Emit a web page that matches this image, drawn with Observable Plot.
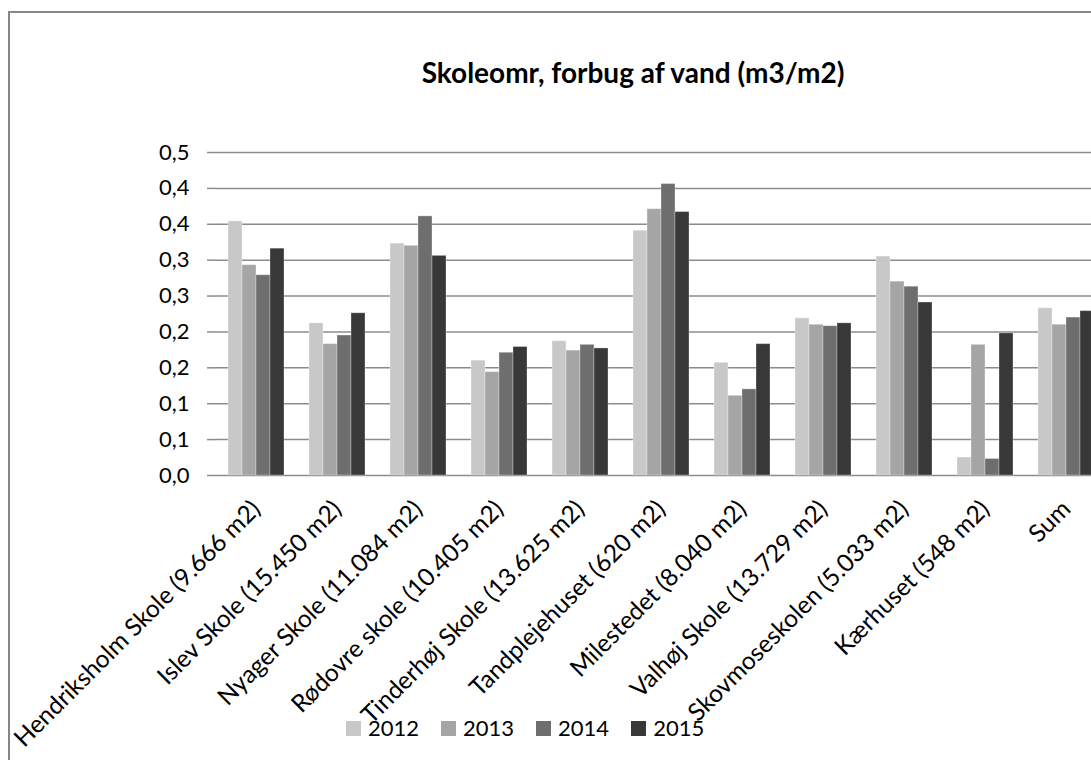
<!DOCTYPE html>
<html>
<head>
<meta charset="utf-8">
<script src="https://cdn.jsdelivr.net/npm/d3@7"></script>
<script src="https://cdn.jsdelivr.net/npm/@observablehq/plot@0.6"></script>
<style>
  html, body { margin: 0; padding: 0; background: #fff; overflow: hidden; width: 1091px; height: 760px; }
  #frame { position: absolute; left: 8px; top: 11px; width: 1200px; height: 900px; border-left: 2px solid #878787; border-top: 2px solid #878787; }
  #chart { position: absolute; left: 0; top: 0; width: 1130px; height: 760px; }
  #title { position: absolute; left: 283px; width: 700px; top: 56px; text-align: center; font-family: Lato, sans-serif; font-weight: bold; font-size: 28px; line-height: 1.2; color: #000; white-space: nowrap; }
  #legend { position: absolute; left: 346px; top: 716px; height: 24px; }
  #legend * { font-family: Lato, sans-serif !important; font-size: 22px !important; color: #000 !important; }
  #legend .lg-swatches { margin: 0 !important; min-height: 24px !important; height: 24px !important; display: flex !important; align-items: center !important; flex-wrap: nowrap !important; }
  #legend .lg-swatch { margin-right: 22px !important; display: inline-flex !important; align-items: center !important; line-height: 24px !important; }
  #legend .lg-swatch > svg { margin-right: 7px !important; }
</style>
</head>
<body>
<div id="frame"></div>
<div id="chart"></div>
<div id="title">Skoleomr, forbug af vand (m3/m2)</div>
<div id="legend"></div>
<script>
// ---- data ----
const categories = [
  "Hendriksholm Skole (9.666 m2)",
  "Islev Skole (15.450 m2)",
  "Nyager Skole (11.084 m2)",
  "Rødovre skole (10.405 m2)",
  "Tinderhøj Skole (13.625 m2)",
  "Tandplejehuset (620 m2)",
  "Milestedet (8.040 m2)",
  "Valhøj Skole (13.729 m2)",
  "Skovmoseskolen (5.033 m2)",
  "Kærhuset (548 m2)",
  "Sum"
];
const years = ["2012", "2013", "2014", "2015"];
const v2012 = [0.354, 0.212, 0.323, 0.160, 0.187, 0.341, 0.157, 0.219, 0.305, 0.025, 0.233];
const v2013 = [0.293, 0.183, 0.320, 0.144, 0.174, 0.371, 0.111, 0.210, 0.270, 0.182, 0.210];
const v2014 = [0.279, 0.195, 0.361, 0.171, 0.182, 0.406, 0.120, 0.208, 0.263, 0.023, 0.220];
const v2015 = [0.316, 0.226, 0.306, 0.179, 0.177, 0.367, 0.183, 0.212, 0.241, 0.198, 0.229];
const yTicks = [0, 0.05, 0.1, 0.15, 0.2, 0.25, 0.3, 0.35, 0.4, 0.45];
const yTickLabels = ["0,0", "0,1", "0,1", "0,2", "0,2", "0,3", "0,3", "0,4", "0,4", "0,5"];
const colors = ["#c8c8c8", "#a5a5a5", "#6e6e6e", "#383838"];

// ---- table ----
const series = [v2012, v2013, v2014, v2015];
const rows = [];
categories.forEach((c, i) => years.forEach((y, j) => rows.push({category: c, year: y, value: series[j][i]})));

// ---- layout ----
const W = 1130, H = 760;
const mL = 215, mR = 24, mT = 152, mB = 285;
const bandHalf = (W - mL - mR) / categories.length / 2;
const gray = "#8c8c8c";

const chart = Plot.plot({
  width: W,
  height: H,
  marginLeft: mL,
  marginRight: mR,
  marginTop: mT,
  marginBottom: mB,
  style: {fontFamily: "Lato, sans-serif", fontSize: "22px", maxWidth: "none", background: "transparent", overflow: "visible", color: "#000"},
  fx: {domain: categories, padding: 0, axis: null, label: null},
  x: {domain: years, paddingInner: 0, paddingOuter: 0.75, axis: null, label: null},
  y: {domain: [0, 0.45], axis: null, label: null},
  color: {domain: years, range: colors},
  marks: [
    Plot.gridY(yTicks, {stroke: gray, strokeOpacity: 1, strokeWidth: 1.5}),
    Plot.barY(rows, {fx: "category", x: "year", y: "value", fill: "year", stroke: "#fff", strokeOpacity: 0.3, strokeWidth: 1}),
    Plot.ruleX(categories, {fx: d => d, y1: 0, y2: 0, insetBottom: -8, dx: -bandHalf, stroke: gray, strokeWidth: 1.5}),
    Plot.ruleX([categories[0]], {fx: d => d, y1: 0, y2: 0.45, dx: -bandHalf, stroke: gray, strokeWidth: 1.5}),
    Plot.axisY(yTicks, {anchor: "left", tickSize: 8, tickPadding: 18, tickFormat: (d, i) => yTickLabels[yTicks.indexOf(d)], stroke: gray, strokeWidth: 1.5, color: "#000", label: null}),
    Plot.text(categories, {fx: d => d, text: d => d, frameAnchor: "bottom", rotate: -45, textAnchor: "end", dx: 6, dy: 35, fontSize: 24.5, fill: "#000"})
  ]
});
document.getElementById("chart").appendChild(chart);

const leg = Plot.legend({color: {type: "ordinal", domain: years, range: colors}, swatchSize: 15, className: "lg"});
document.getElementById("legend").appendChild(leg);
</script>
</body>
</html>
